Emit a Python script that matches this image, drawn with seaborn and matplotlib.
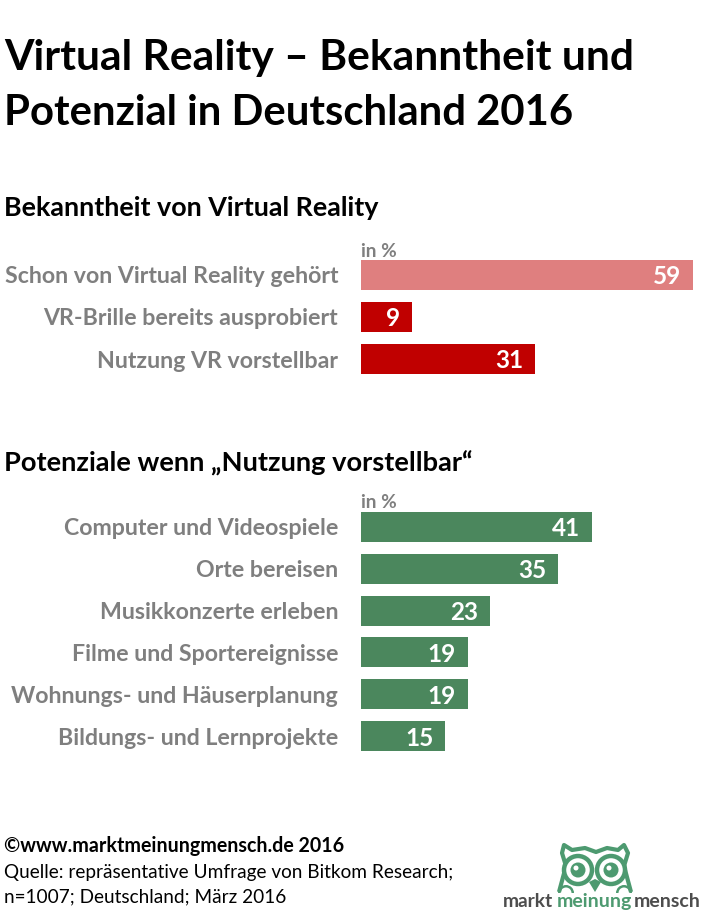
import matplotlib.pyplot as plt
import matplotlib.patches as mp
import pandas as pd
import seaborn as sns

W, H = 705, 921

bekannt_labels = ["Schon von Virtual Reality gehört", "VR-Brille bereits ausprobiert", "Nutzung VR vorstellbar"]
bekannt_values = [59, 9, 31]
bekannt_colors = ["#df7f7f", "#c00000", "#c00000"]

potenzial_labels = ["Computer und Videospiele", "Orte bereisen", "Musikkonzerte erleben",
                    "Filme und Sportereignisse", "Wohnungs- und Häuserplanung", "Bildungs- und Lernprojekte"]
potenzial_values = [41, 35, 23, 19, 19, 15]
potenzial_color = "#4b875d"

sns.set_theme(style="white")
plt.rcParams['font.family'] = ['Lato', 'DejaVu Sans']

fig = plt.figure(figsize=(W / 100, H / 100), dpi=100, facecolor="white")


def px_axes(x0, y0, x1, y1):
    return fig.add_axes([x0 / W, 1 - y1 / H, (x1 - x0) / W, (y1 - y0) / H])


def bars(ax, labels, values, palette):
    df = pd.DataFrame({"label": labels, "value": values})
    sns.barplot(data=df, y="label", x="value", hue="label", palette=palette,
                legend=False, width=0.715, saturation=1, linewidth=0, ax=ax)
    ax.set_xlim(0, 59)
    ax.set_xlabel("")
    ax.set_ylabel("")
    ax.set_xticks([])
    ax.tick_params(axis="y", length=0, pad=16.5)
    for tick in ax.get_yticklabels():
        tick.set_fontsize(16.7)
        tick.set_fontweight("bold")
        tick.set_color("#7f7f7f")
    sns.despine(ax=ax, left=True, bottom=True)
    # values sit right aligned inside the bar end
    for container in ax.containers:
        for t in ax.bar_label(container, label_type="edge", padding=-8.6, color="white",
                              fontsize=17.5, fontweight="bold"):
            t.set_ha("right")
            t.set_va("center_baseline")


ax1 = px_axes(361, 254, 693, 380)
bars(ax1, bekannt_labels, bekannt_values, bekannt_colors)

ax2 = px_axes(361, 506, 693, 757)
bars(ax2, potenzial_labels, potenzial_values, [potenzial_color] * 6)

# overlay in pixel coordinates for headings and the logo
ov = fig.add_axes([0, 0, 1, 1], zorder=5)
ov.set_xlim(0, W)
ov.set_ylim(H, 0)
ov.axis("off")
ov.patch.set_alpha(0)


def txt(x, y, s, size, color="black", weight="normal", **kw):
    ov.text(x, y, s, fontsize=size, color=color, fontweight=weight, va="center", **kw)


txt(4, 58, "Virtual Reality – Bekanntheit und", 30.6, weight="bold")
txt(4, 113, "Potenzial in Deutschland 2016", 30.2, weight="bold")
txt(4, 208, "Bekanntheit von Virtual Reality", 19.4, weight="bold")
txt(4, 463, "Potenziale wenn „Nutzung vorstellbar“", 19.6, weight="bold")
txt(361, 251, "in %", 13.7, color="#7f7f7f", weight="bold")
txt(361, 502, "in %", 13.7, color="#7f7f7f", weight="bold")
txt(4, 846, "©www.marktmeinungmensch.de 2016", 14.1, weight="bold")
txt(4, 872, "Quelle: repräsentative Umfrage von Bitkom Research;", 13.7)
txt(4, 897, "n=1007; Deutschland; März 2016", 13.7)

# owl logo
green = "#4d9a70"
head = [(559, 892), (566, 866), (562, 853), (564, 845), (572, 850), (585, 848), (596, 852), (607, 848),
        (618, 850), (624, 845), (628, 853), (624, 866), (631, 892)]
ov.add_patch(mp.Polygon(head, closed=False, fc="white", ec=green, lw=3, joinstyle="round"))
for cx in (578, 611):
    ov.add_patch(mp.Circle((cx, 870), 14, fc="white", ec=green, lw=3.2))
    ov.add_patch(mp.Circle((cx, 870), 7.5, fc=green, ec="none"))
    ov.add_patch(mp.Circle((cx - 2, 868), 2.5, fc="white", ec="none"))
ov.add_patch(mp.Polygon([(589, 882), (595, 879), (601, 882), (595, 892)], closed=True, fc=green, ec="none"))
# claws
for cx in (566, 624):
    ov.add_patch(mp.Wedge((cx, 893), 8, 180, 360, width=2.5, fc=green, ec="none"))
txt(503, 901, "markt", 13.8, color="#4d4d4d", weight="bold")
txt(557, 901, "meinung", 14, color=green, weight="bold")
txt(634, 901, "mensch", 14, color="#4d4d4d", weight="bold")

fig.savefig("out.png", dpi=100, facecolor="white")
